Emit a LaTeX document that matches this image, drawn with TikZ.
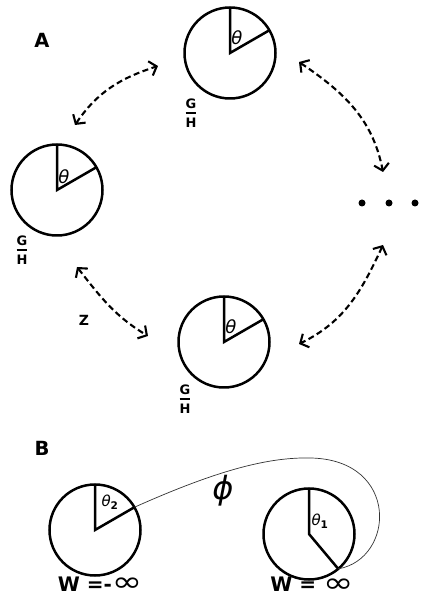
\documentclass[tikz,border=0pt]{standalone}
\usepackage{fontspec}
\setmainfont{DejaVu Sans}
\usepackage{graphicx}
\usetikzlibrary{arrows.meta}

\newcommand{\GH}{$\displaystyle{\mbox{G}\above1.4pt\mbox{H}}$}
\newcommand{\infy}{\raisebox{-0.5pt}{\scalebox{1.3}[1]{\fontsize{28}{28}\selectfont\mdseries ∞}}}

\tikzset{
	disc/.style={circle, draw, line width=2.5pt, minimum size=91pt, inner sep=0pt, outer sep=0pt},
	spoke/.style={line width=2.5pt},
	swing/.style={dash pattern=on 6pt off 3.5pt, line width=2.1pt, {Straight Barb[length=6.5pt,width=15pt]}-{Straight Barb[length=6.5pt,width=15pt]}},
	thread/.style={line width=0.7pt, black!80},
	ang/.style={font=\fontsize{18}{18}\selectfont\itshape, inner sep=0pt},
	subang/.style={font=\fontsize{15}{15}\selectfont\itshape, inner sep=0pt},
	quot/.style={font=\fontsize{13}{13}\selectfont\bfseries, inner sep=0pt},
	tag/.style={font=\fontsize{19.5}{19.5}\selectfont\bfseries, inner sep=0pt},
	ztag/.style={font=\fontsize{14}{14}\selectfont\bfseries, inner sep=0pt},
	wtag/.style={font=\fontsize{20}{20}\selectfont\bfseries, inner sep=0pt, anchor=base},
	dot/.style={circle, fill, minimum size=7pt, inner sep=0pt},
}

\begin{document}
\begin{tikzpicture}[x=1pt,y=1pt]
\useasboundingbox (0,0) rectangle (422,599);
% part A
\node[tag] (labA) at (42,559) {A};
\node[disc] (top) at (230,546) {};
\node[disc] (left) at (57,409) {};
\node[disc] (bottom) at (224,257) {};
\draw[spoke] (top.north) -- (top.center) -- (top.30);
\draw[spoke] (left.north) -- (left.center) -- (left.30);
\draw[spoke] (bottom.north) -- (bottom.center) -- (bottom.30);
\node[ang] (thtop) at (237,561) {θ};
\node[ang] (thleft) at (64,422) {θ};
\node[ang] (thbottom) at (231,272) {θ};
\node[quot] (ghtop) at (191,486) {\GH};
\node[quot] (ghleft) at (22,349) {\GH};
\node[quot] (ghbottom) at (185,200) {\GH};
\node[dot] (d1) at (362,396) {};
\node[dot] (d2) at (389,396) {};
\node[dot] (d3) at (415,396) {};
\node[ztag] (z) at (84,279) {Z};
\coordinate (a1) at (75,474);
\coordinate (a2) at (158,533);
\coordinate (b1) at (299,537);
\coordinate (b2) at (383,427);
\coordinate (c1) at (383,354);
\coordinate (c2) at (299,255);
\coordinate (e1) at (77,332);
\coordinate (e2) at (148,263);
\draw[swing] (a1) to[out=56,in=198] (a2);
\draw[swing] (b1) to[out=-34,in=101] (b2);
\draw[swing] (c1) to[out=245,in=26] (c2);
\draw[swing] (e1) to[out=-52,in=149] (e2);
% part B
\node[tag] (labB) at (42,151) {B};
\node[disc] (wl) at (95,69) {};
\node[disc] (wr) at (309,65) {};
\draw[spoke] (wl.north) -- (wl.center) -- (wl.30);
\draw[spoke] (wr.north) -- (wr.center) -- (wr.-50);
\node[subang] (th2) at (110,97) {θ\textsubscript{\upshape\bfseries 2}};
\node[subang] (th1) at (320,78) {θ\textsubscript{\upshape\bfseries 1}};
\coordinate (loop) at (311,141);
\draw[thread] (wl.30) .. controls (220,130) and (270,142) .. (loop) .. controls (400,139) and (395,40) .. (wr.-50);
\node[font=\fontsize{32}{32}\selectfont\itshape, inner sep=0pt] (phi) at (223,108) {ϕ};
\node[wtag] (wminus) at (100,7.5) {W =-\infy};
\node[wtag] (wplus) at (312,7) {W = \infy};
\end{tikzpicture}
\end{document}
